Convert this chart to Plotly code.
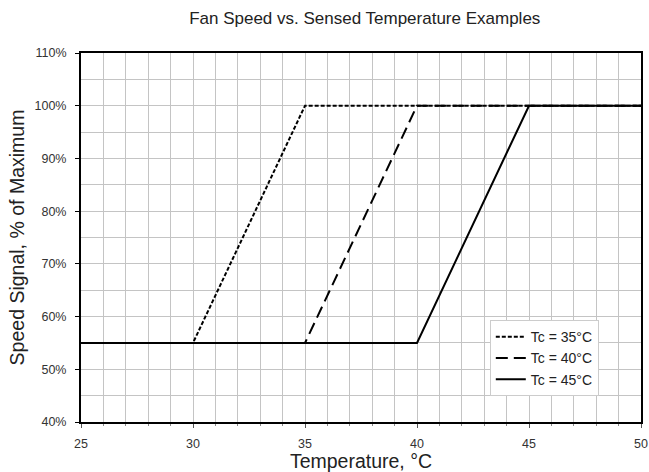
import plotly.graph_objects as go

temps_35 = [25, 30, 35, 50]
speed_35 = [55, 55, 100, 100]
temps_40 = [25, 35, 40, 50]
speed_40 = [55, 55, 100, 100]
temps_45 = [25, 40, 45, 50]
speed_45 = [55, 55, 100, 100]
names = ["Tc = 35°C", "Tc = 40°C", "Tc = 45°C"]
dashes = ["4px,2px", "12px,6px", "solid"]

fig = go.Figure()
for xs, ys, nm, ds in zip([temps_35, temps_40, temps_45], [speed_35, speed_40, speed_45], names, dashes):
    fig.add_trace(go.Scatter(x=xs, y=ys, mode="lines", name=nm,
                             line=dict(color="black", width=2, dash=ds)))

W, H = 649, 472
fig.update_layout(
    width=W, height=H,
    margin=dict(l=81, r=8, t=53, b=50, autoexpand=False),
    paper_bgcolor="white", plot_bgcolor="white",
    font=dict(family="Liberation Sans, Arial, sans-serif", color="#333333"),
    title=dict(text="Fan Speed vs. Sensed Temperature Examples", x=0.562, xanchor="center",
               yref="container", y=1 - 18 / H, yanchor="middle", font=dict(size=17, color="#222222")),
    showlegend=True,
    legend=dict(x=0.73, y=0.276, xanchor="left", yanchor="top",
                bgcolor="white", bordercolor="#cccccc", borderwidth=1,
                font=dict(size=14, color="#222222"), itemwidth=30, tracegroupgap=0),
)
fig.update_xaxes(range=[25, 50], tickmode="array", tickvals=[25, 30, 35, 40, 45, 50],
                 automargin=False, ticklabeloverflow="allow",
                 showgrid=False, showline=True, linecolor="black", linewidth=2, mirror=True,
                 ticks="outside", ticklen=4, tickcolor="#555555", ticklabelstandoff=5,
                 tickfont=dict(size=12.5, color="#333333"),
                 title=dict(text="Temperature, °C", font=dict(size=19.5, color="#222222"), standoff=5),
                 minor=dict(dtick=1, showgrid=True, gridcolor="#c4c4c4", gridwidth=1,
                            ticks="outside", ticklen=2, tickcolor="#888888"))
fig.update_yaxes(range=[40, 110], tickmode="array",
                 tickvals=[40, 50, 60, 70, 80, 90, 100, 110],
                 ticktext=["40%", "50%", "60%", "70%", "80%", "90%", "100%", "110%"],
                 automargin=False, ticklabeloverflow="allow",
                 showgrid=False, showline=True, linecolor="black", linewidth=2, mirror=True,
                 ticks="outside", ticklen=4, tickcolor="black", ticklabelstandoff=6,
                 tickfont=dict(size=12.5, color="#333333"),
                 title=dict(text="Speed Signal, % of Maximum", font=dict(size=19.5, color="#222222"), standoff=5),
                 minor=dict(dtick=5, showgrid=True, gridcolor="#c4c4c4", gridwidth=1))

fig.write_html("out.html", config={"displayModeBar": False},
               post_script="document.body.style.margin='0';document.body.style.overflow='hidden';")
